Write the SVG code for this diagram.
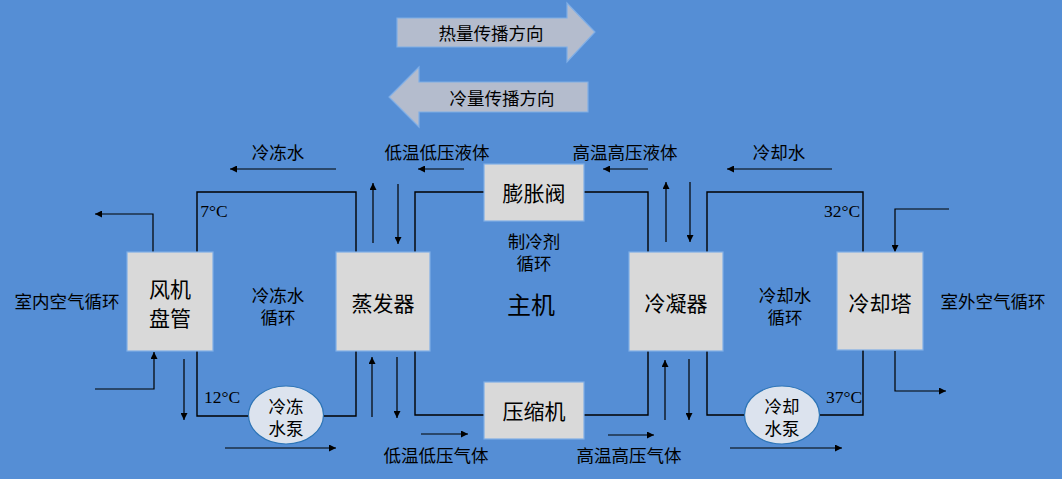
<svg xmlns="http://www.w3.org/2000/svg" width="1062" height="479" viewBox="0 0 1062 479">
<defs>
<marker id="ah" viewBox="0 0 10 10" refX="10" refY="5" markerWidth="7" markerHeight="7" markerUnits="userSpaceOnUse" orient="auto"><path d="M0,0 L10,5 L0,10 z" fill="#000"/></marker>
<style>
.box{fill:#D9D9D9;stroke:#7FAEE6;stroke-width:1.2}
.pump{fill:#DCE3EE;stroke:#2E75B6;stroke-width:1.2}
.ln{fill:none;stroke:#000;stroke-width:1.4}
.ar{fill:none;stroke:#000;stroke-width:1.2;marker-end:url(#ah)}
.big{fill:#B4BCCD;stroke:#7FAEE6;stroke-width:1.2}
text{font-family:"Noto Sans CJK SC","Noto Sans",sans-serif;fill:#000;text-anchor:middle;dominant-baseline:central}
.lb{font-size:17.5px}
.bx{font-size:21px}
.tc{font-family:"Liberation Serif",serif;font-size:17.5px}
</style>
</defs>
<rect width="1062" height="479" fill="#558ED5"/>
<g id="heat-arrow"><polygon class="big" points="397,18 567,18 567,3 595,32 567,62 567,47 397,47"/><text class="lb" x="491" y="32">热量传播方向</text></g>
<g id="cold-arrow"><polygon class="big" points="588,82 419,82 419,67 389,97 419,127 419,112 588,112"/><text class="lb" x="502" y="97">冷量传播方向</text></g>
<g id="connectors">
<polyline class="ln" points="197,252 197,192 356,192 356,252"/>
<polyline class="ln" points="197,351 197,416 249,416"/>
<polyline class="ln" points="323,416 356,416 356,351"/>
<polyline class="ln" points="415,252 415,192 484,192"/>
<polyline class="ln" points="584,192 648,192 648,252"/>
<polyline class="ln" points="707,252 707,192 863,192 863,252"/>
<polyline class="ln" points="415,351 415,415 484,415"/>
<polyline class="ln" points="584,415 648,415 648,351"/>
<polyline class="ln" points="707,351 707,415 745,415"/>
<polyline class="ln" points="820,415 863,415 863,350"/>
<polyline class="ar" points="153,252 153,214 95,214"/>
<polyline class="ar" points="95,389 154,389 154,352"/>
<line class="ar" x1="184" y1="359" x2="184" y2="420"/>
<line class="ar" x1="225" y1="448" x2="336" y2="448"/>
<line class="ar" x1="336" y1="169" x2="230" y2="169"/>
<line class="ar" x1="464" y1="169" x2="418" y2="169"/>
<line class="ar" x1="648" y1="169" x2="603" y2="169"/>
<line class="ar" x1="832" y1="169" x2="727" y2="169"/>
<line class="ar" x1="373" y1="243" x2="373" y2="183"/>
<line class="ar" x1="398" y1="184" x2="398" y2="244"/>
<line class="ar" x1="666" y1="242" x2="666" y2="182"/>
<line class="ar" x1="690" y1="182" x2="690" y2="242"/>
<line class="ar" x1="372" y1="417" x2="372" y2="357"/>
<line class="ar" x1="397" y1="357" x2="397" y2="418"/>
<line class="ar" x1="665" y1="420" x2="665" y2="360"/>
<line class="ar" x1="689" y1="359" x2="689" y2="420"/>
<line class="ar" x1="421" y1="434" x2="468" y2="434"/>
<line class="ar" x1="608" y1="435" x2="654" y2="435"/>
<polyline class="ar" points="949,209 895,209 895,252"/>
<polyline class="ar" points="895,351 895,391 946,391"/>
<line class="ar" x1="730" y1="448" x2="842" y2="448"/>
</g>
<g id="fan-coil"><rect class="box" x="127" y="252" width="86" height="99"/><text class="bx" x="170" y="288">风机<tspan x="170" dy="29">盘管</tspan></text></g>
<g id="evaporator"><rect class="box" x="336" y="252" width="94" height="99"/><text class="bx" x="383" y="302">蒸发器</text></g>
<g id="expansion-valve"><rect class="box" x="484" y="164" width="100" height="57"/><text class="bx" x="534" y="192">膨胀阀</text></g>
<g id="compressor"><rect class="box" x="484" y="382" width="100" height="57"/><text class="bx" x="534" y="410">压缩机</text></g>
<g id="condenser"><rect class="box" x="629" y="252" width="94" height="99"/><text class="bx" x="676" y="302">冷凝器</text></g>
<g id="cooling-tower"><rect class="box" x="837" y="252" width="86" height="98"/><text class="bx" x="880" y="302">冷却塔</text></g>
<g id="chilled-pump"><ellipse class="pump" cx="286" cy="415" rx="37.5" ry="29"/><text class="lb" x="286" y="405">冷冻<tspan x="286" dy="22">水泵</tspan></text></g>
<g id="cooling-pump"><ellipse class="pump" cx="782" cy="415" rx="37.5" ry="29"/><text class="lb" x="782" y="405">冷却<tspan x="782" dy="22">水泵</tspan></text></g>
<g id="labels">
<text class="lb" x="278" y="151">冷冻水</text>
<text class="lb" x="437" y="151">低温低压液体</text>
<text class="lb" x="625" y="151">高温高压液体</text>
<text class="lb" x="779" y="151">冷却水</text>
<text class="lb" x="436" y="454">低温低压气体</text>
<text class="lb" x="629" y="454">高温高压气体</text>
<text class="lb" x="278" y="294">冷冻水<tspan x="278" dy="22">循环</tspan></text>
<text class="lb" x="785" y="294">冷却水<tspan x="785" dy="22">循环</tspan></text>
<text class="lb" x="534" y="240">制冷剂<tspan x="534" dy="22">循环</tspan></text>
<text x="531" y="303" style="font-size:24px">主机</text>
<text class="lb" x="67" y="300">室内空气循环</text>
<text class="lb" x="993" y="300">室外空气循环</text>
<text class="tc" x="214" y="211">7°C</text>
<text class="tc" x="222" y="397">12°C</text>
<text class="tc" x="842" y="211">32°C</text>
<text class="tc" x="844" y="397">37°C</text>
</g>
</svg>
